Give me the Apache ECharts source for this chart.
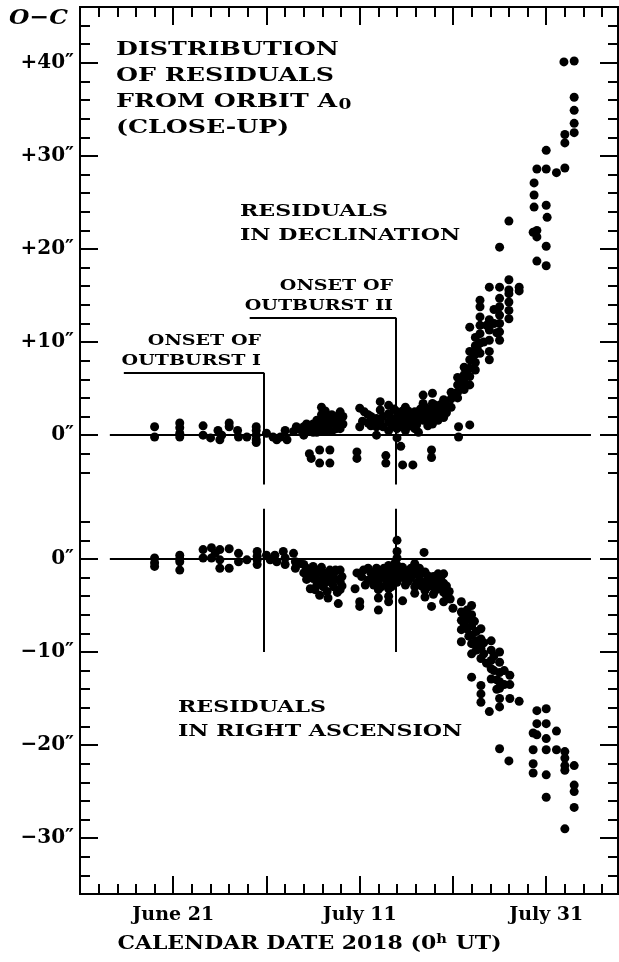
<!DOCTYPE html>
<html style="height: 100%">
<head>
    <meta charset="utf-8">
</head>
<body style="height: 100%; margin: 0; background: #fff">
    <div id="container" style="width: 619px; height: 962px"></div>
    <script type="text/javascript" src="https://cdn.jsdelivr.net/npm/echarts@6/dist/echarts.min.js"></script>
    <script type="text/javascript">
        // x = day counted from June 0, 2018 (June 21 = 21, July 11 = 41, July 31 = 61)
        var decPoints = [
            [19.0,0.9],[19.0,-0.2],
            [21.7,1.3],[21.7,0.8],[21.7,0.2],[21.7,-0.2],
            [24.2,1.0],[24.2,0.0],
            [25.0,-0.3],[25.8,0.5],[26.0,-0.5],[26.2,0.0],
            [27.0,1.3],[27.0,0.9],
            [27.9,0.5],[28.0,-0.2],
            [28.9,-0.2],
            [29.9,0.9],[29.9,0.5],[29.9,0.0],[29.9,-0.5],[29.9,-0.8],
            [31.0,0.2],[31.7,-0.2],[32.1,-0.5],[32.5,-0.2],[33.0,0.5],[33.2,-0.5],[33.9,0.4],[34.2,0.9],[34.6,0.6],
            [35.0,0.9],[35.0,0.3],[35.0,0.0],[35.3,1.2],[35.3,0.5],[35.6,0.5],[35.6,1.0],[36.0,1.2],[36.0,0.3],[36.0,0.7],
            [36.4,0.9],[36.4,0.3],[36.4,1.6],
            [36.9,3.0],[36.9,2.2],[36.9,1.3],[36.9,0.4],[37.3,1.9],[37.3,1.0],[37.3,0.5],[37.3,2.6],[37.6,1.5],[37.6,0.7],
            [38.0,2.2],[38.0,1.3],[38.0,0.4],[38.0,1.8],[38.5,1.4],[38.5,0.7],[38.5,2.0],
            [38.9,2.5],[38.9,1.6],[38.9,0.7],[39.2,1.2],[39.2,2.0],
            [41.0,2.9],[41.0,0.9],[41.3,1.5],[41.5,2.5],
            [41.9,2.2],[41.9,1.3],[42.2,1.0],[42.2,2.0],[42.5,1.4],
            [42.8,1.8],[42.8,0.9],[42.8,0.0],
            [43.2,3.6],[43.2,2.7],[43.2,1.5],[43.5,0.9],[43.5,2.0],
            [44.1,3.2],[44.1,2.3],[44.1,1.4],[44.1,0.5],[44.5,1.8],[44.5,0.9],[44.7,2.8],
            [45.0,2.5],[45.0,1.6],[45.0,0.7],[45.0,1.2],[45.0,-0.3],
            [45.3,1.8],[45.3,1.0],[45.4,-1.2],
            [45.6,1.4],[45.6,2.6],
            [45.9,3.0],[45.9,2.2],[45.9,1.3],[45.9,0.5],
            [46.2,1.5],[46.2,2.6],[46.4,2.0],[46.4,1.0],[46.6,1.2],[46.6,2.0],
            [46.9,2.5],[46.9,1.6],[46.9,0.7],
            [47.1,1.1],[47.1,2.2],[47.3,1.8],[47.3,0.3],[47.5,2.8],
            [47.8,4.3],[47.8,3.4],[47.8,2.5],[47.8,1.6],
            [48.0,2.0],[48.0,3.0],[48.3,2.0],[48.3,1.0],[48.5,2.8],[48.5,1.6],
            [48.8,4.5],[48.8,3.4],[48.8,2.3],[48.8,1.2],
            [49.1,2.0],[49.1,3.2],[49.4,2.7],[49.4,1.6],[49.7,2.2],[49.7,3.3],
            [50.0,3.8],[50.0,2.8],[50.0,1.9],[50.3,3.2],[50.3,2.4],
            [35.6,-2.0],[35.8,-2.5],[36.7,-1.6],[36.7,-3.0],[37.8,-1.6],[37.8,-3.0],
            [40.7,-1.8],[40.7,-2.5],
            [43.8,-2.2],[43.8,-3.0],
            [45.6,-3.2],[46.7,-3.2],
            [48.7,-1.6],[48.7,-2.4],
            [51.6,-0.2],[51.6,0.9],[52.8,1.1],
            [50.8,4.6],[50.8,3.9],[50.8,3.0],[51.2,4.5],
            [51.5,6.2],[51.5,5.4],[51.5,4.6],[51.5,4.0],[51.8,5.8],
            [52.2,7.3],[52.2,6.5],[52.2,5.7],[52.2,4.9],[52.5,6.8],
            [52.8,11.6],[52.8,9.0],[52.8,8.1],[52.8,7.2],[52.8,6.3],[52.8,5.4],[53.1,8.2],
            [53.4,10.5],[53.4,9.6],[53.4,8.7],[53.4,7.8],[53.4,7.0],[53.6,9.3],
            [53.9,14.5],[53.9,13.8],[53.9,12.7],[53.9,11.8],[53.9,10.9],[53.9,9.9],[53.9,8.8],
            [54.3,10.0],[54.6,11.8],
            [54.9,15.9],[54.9,12.4],[54.9,11.3],[54.9,10.2],[54.9,9.0],[54.9,8.1],
            [55.4,12.0],[55.4,13.5],[55.7,11.0],
            [56.0,20.2],[56.0,15.9],[56.0,14.7],[56.0,13.8],[56.0,12.9],[56.0,12.0],[56.0,11.1],[56.0,10.2],
            [57.0,23.0],[57.0,16.7],[57.0,15.6],[57.0,15.2],[57.0,14.3],[57.0,13.4],[57.0,12.5],
            [58.1,15.9],[58.1,15.5],
            [59.6,21.8],[59.7,27.1],[59.7,25.8],[59.7,24.5],
            [60.0,28.6],[60.0,22.0],[60.0,21.3],[60.0,18.7],
            [61.0,30.6],[61.0,28.6],[61.0,24.7],[61.1,23.4],[61.0,20.3],[61.0,18.2],
            [62.1,28.2],
            [63.0,28.7],[63.0,32.3],[63.0,31.4],
            [62.9,40.1],[64.0,40.2],[64.0,36.3],[64.0,34.9],[64.0,33.5],[64.0,32.5]
        ];

        var raPoints = [
            [19.0,0.1],[19.0,-0.8],[19.0,-0.4],
            [21.7,0.4],[21.7,-0.3],[21.7,-1.2],[21.7,0.0],
            [24.2,1.0],[24.2,0.1],
            [25.1,1.2],[25.1,0.1],[26.0,1.0],[26.0,-0.1],[26.0,-1.0],[25.5,0.6],
            [27.0,1.1],[27.0,-1.0],
            [28.0,0.6],[28.0,-0.3],
            [28.9,-0.1],
            [30.0,0.8],[30.0,-0.1],[30.0,-0.6],[30.0,0.3],
            [31.0,0.4],[31.4,-0.1],[31.9,0.4],[32.1,-0.3],[32.8,0.8],[33.0,0.1],[33.0,-0.6],[33.9,0.6],[34.1,-0.3],[34.1,-1.0],[34.6,-0.5],
            [35.0,-0.6],[35.0,-1.5],[35.3,-1.0],[35.3,-2.2],[35.5,-1.8],[35.7,-3.2],[35.8,-1.1],
            [36.0,-0.8],[36.0,-2.1],[36.0,-1.4],[36.2,-1.8],[36.2,-3.3],[36.4,-2.8],[36.6,-1.2],[36.6,-2.4],[36.7,-3.9],
            [36.9,-1.4],[36.9,-0.9],[37.1,-1.8],[37.1,-3.0],[37.3,-2.5],[37.5,-1.5],[37.5,-3.5],[37.6,-4.2],
            [37.8,-2.1],[37.8,-1.2],[38.0,-2.6],[38.2,-1.6],[38.2,-3.0],[38.4,-1.2],[38.4,-2.2],[38.6,-3.6],[38.7,-4.8],
            [38.9,-1.2],[38.9,-2.4],[38.9,-3.3],[39.1,-1.9],[39.1,-2.9],
            [40.7,-1.5],[40.5,-3.2],[41.0,-4.6],[41.0,-5.1],[41.2,-1.9],[41.4,-1.2],[41.6,-2.8],
            [41.9,-1.0],[41.9,-2.3],[42.2,-1.5],[42.2,-2.2],
            [42.5,-1.8],[42.5,-2.8],[42.8,-1.0],[42.8,-2.0],
            [43.0,-1.4],[43.0,-2.4],[43.0,-3.3],[43.0,-4.2],[43.0,-5.5],
            [43.3,-1.7],[43.3,-3.0],[43.6,-1.0],[43.6,-2.0],[43.9,-1.4],[43.9,-2.6],
            [44.1,-0.7],[44.1,-2.2],[44.1,-3.2],[44.1,-4.0],[44.1,-4.6],
            [44.4,-1.9],[44.4,-3.0],[44.6,-1.2],[44.6,-2.6],[44.8,-0.4],
            [45.0,2.0],[45.0,0.8],[45.0,0.1],[45.0,-0.7],[45.0,-1.6],[45.0,-2.5],
            [45.2,-1.2],[45.2,-2.0],
            [45.6,-0.9],[45.6,-2.0],[45.6,-4.5],[45.9,-1.5],[45.9,-2.8],
            [46.2,-1.3],[46.2,-2.4],[46.5,-1.0],[46.5,-2.0],
            [46.9,-0.5],[46.9,-1.6],[46.9,-3.0],[46.9,-3.7],
            [47.1,-1.3],[47.1,-2.6],[47.4,-1.0],[47.4,-2.2],[47.6,-1.6],[47.6,-2.9],
            [47.9,0.7],
            [48.0,-1.4],[48.0,-2.5],[48.0,-3.4],[48.0,-4.1],
            [48.3,-1.8],[48.3,-3.0],[48.6,-2.4],[48.7,-5.1],
            [48.9,-1.9],[48.9,-3.0],[48.9,-3.8],[49.1,-2.3],[49.1,-3.4],
            [49.4,-1.6],[49.4,-2.8],[49.7,-2.0],[49.7,-3.2],
            [50.0,-1.6],[50.0,-2.6],[50.0,-3.6],[50.0,-4.6],
            [50.3,-2.9],[50.3,-3.9],[50.6,-3.5],[50.7,-4.3],[51.0,-5.3],
            [51.9,-4.6],[51.9,-5.7],[51.9,-6.6],[51.9,-7.6],[51.9,-8.9],
            [52.2,-6.0],[52.2,-7.0],
            [52.5,-5.5],[52.5,-6.5],[52.5,-7.5],[52.7,-8.3],
            [53.0,-5.0],[53.0,-6.0],[53.0,-7.2],[53.0,-8.2],[53.0,-9.1],[53.0,-10.2],[53.0,-12.7],
            [53.3,-6.7],[53.5,-7.8],[53.5,-8.8],[53.5,-9.8],[53.7,-9.2],
            [54.0,-7.5],[54.0,-8.6],[54.0,-9.6],[54.0,-10.7],[54.0,-13.6],[54.0,-14.5],[54.0,-15.4],
            [54.3,-9.0],[54.3,-10.2],[54.6,-11.2],
            [54.9,-16.4],
            [55.1,-8.8],[55.1,-9.8],[55.1,-10.9],[55.1,-11.8],[55.1,-12.9],
            [55.4,-10.4],[55.4,-12.0],[55.7,-13.0],[55.7,-14.0],
            [56.0,-10.0],[56.0,-11.1],[56.0,-12.2],[56.0,-13.2],[56.0,-13.9],[56.0,-15.0],[56.0,-15.9],[56.0,-20.4],
            [56.5,-12.0],[56.5,-13.5],
            [57.1,-12.5],[57.1,-13.5],[57.1,-15.0],[57.0,-21.7],
            [58.1,-15.3],
            [60.0,-16.3],[61.0,-16.1],
            [60.0,-17.7],[61.0,-17.7],[62.1,-18.5],
            [59.6,-18.7],[60.0,-18.9],[61.0,-19.3],
            [59.6,-20.5],[61.0,-20.5],[62.1,-20.5],
            [59.6,-22.0],[59.6,-23.0],
            [61.0,-23.2],[61.0,-25.6],
            [63.0,-20.7],[63.0,-21.4],[63.0,-22.2],[63.0,-22.7],
            [64.0,-22.2],[64.0,-24.3],[64.0,-25.0],[64.0,-26.7],
            [63.0,-29.0]
        ];

        var dayMajor = [21, 31, 41, 51, 61];
        var dayMinor = [13, 15, 17, 19, 23, 25, 27, 29, 33, 35, 37, 39, 43, 45, 47, 49, 53, 55, 57, 59, 63, 65, 67];
        var dayLabelValues = [21, 41, 61];
        var dayLabelText = { 21: 'June 21', 41: 'July 11', 61: 'July 31' };
        var decMajor = [0, 10, 20, 30, 40];
        var decMinor = [-4, -2, 2, 4, 6, 8, 12, 14, 16, 18, 22, 24, 26, 28, 32, 34, 36, 38, 42, 44];
        var raMajor = [0, -10, -20, -30];
        var raMinor = [4, 2, -2, -4, -6, -8, -12, -14, -16, -18, -22, -24, -26, -28, -32, -34];

        var outburstDay = [30.73, 44.9];     // onset of outburst I, II
        var leaderStart = [15.7, 29.2];      // left end of the label leader lines
        var leaderLevel = [6.7, 12.6];       // leader height, arcsec in declination
        var zeroSpan = [14.2, 65.8];

        var FONT = '"DejaVu Serif", "Liberation Serif", serif';

        var dom = document.getElementById('container');
        var myChart = echarts.init(dom, null, { renderer: 'canvas' });

        function xAx(pos, ticks, len, labels) {
            return {
                type: 'value', position: pos, min: 11, max: 68.7,
                axisLine: { onZero: false, lineStyle: { color: '#000', width: 2 } },
                axisTick: { inside: true, length: len, customValues: ticks, lineStyle: { color: '#000', width: 2 } },
                axisLabel: labels ? {
                    customValues: dayLabelValues, margin: 12, color: '#000',
                    fontFamily: FONT, fontWeight: 'bold', fontSize: 19,
                    formatter: function (v) { return dayLabelText[v] || ''; }
                } : { show: false },
                splitLine: { show: false }
            };
        }

        function yAx(pos, min, max, ticks, len, labels, fmt) {
            return {
                type: 'value', position: pos, min: min, max: max,
                axisLine: { onZero: false, lineStyle: { color: '#000', width: 2 } },
                axisTick: { inside: true, length: len, customValues: ticks, lineStyle: { color: '#000', width: 2 } },
                axisLabel: labels ? {
                    customValues: labels, margin: 6, color: '#000',
                    fontFamily: FONT, fontWeight: 'bold', fontSize: 20,
                    formatter: fmt
                } : { show: false },
                splitLine: { show: false }
            };
        }

        function decFmt(v) { return v === 0 ? '0\u2033' : '+' + v + '\u2033'; }
        function raFmt(v) { return v === 0 ? '0\u2033' : '\u2212' + Math.abs(v) + '\u2033'; }

        var lineStyle = { color: '#000', width: 2, type: 'solid' };
        function seg(a, b) { return [{ coord: a }, { coord: b }]; }

        var decLines = [seg([zeroSpan[0], 0], [zeroSpan[1], 0])];
        var raLines = [seg([zeroSpan[0], 0], [zeroSpan[1], 0])];
        for (var i = 0; i < outburstDay.length; i++) {
            decLines.push(seg([outburstDay[i], leaderLevel[i]], [outburstDay[i], -5.3]));
            decLines.push(seg([leaderStart[i], leaderLevel[i]], [outburstDay[i], leaderLevel[i]]));
            raLines.push(seg([outburstDay[i], 5.4], [outburstDay[i], -10]));
        }

        function markLine(data) {
            return {
                silent: true, symbol: ['none', 'none'], animation: false,
                label: { show: false }, lineStyle: lineStyle,
                emphasis: { disabled: true }, data: data
            };
        }

        function note(x, y, text, size, align, scale, lh, style) {
            return {
                type: 'text', x: x, y: y, scaleX: scale, silent: true,
                style: {
                    text: text, fill: '#000',
                    font: (style || '') + 'bold ' + size + 'px ' + FONT,
                    align: align, textAlign: align,
                    verticalAlign: 'top', textVerticalAlign: 'top',
                    lineHeight: lh,
                    rich: {
                        sub: { fontFamily: FONT, fontWeight: 'bold', fontSize: 14, fill: '#000', padding: [7, 0, 0, 1], lineHeight: lh }
                    }
                }
            };
        }

        var option = {
            animation: false,
            backgroundColor: '#fff',
            grid: { left: 80, right: 1, top: 7, bottom: 68 },
            xAxis: [
                xAx('bottom', dayMajor, 18, true),
                xAx('bottom', dayMinor, 10, false),
                xAx('top', dayMajor, 18, false),
                xAx('top', dayMinor, 10, false)
            ],
            yAxis: [
                yAx('left', -49.3, 46.0, decMajor, 18, decMajor, decFmt),
                yAx('left', -49.3, 46.0, decMinor, 10, null),
                yAx('left', -36.0, 59.3, raMajor, 18, raMajor, raFmt),
                yAx('left', -36.0, 59.3, raMinor, 10, null),
                yAx('right', -49.3, 46.0, decMajor, 18, null),
                yAx('right', -49.3, 46.0, decMinor, 10, null),
                yAx('right', -36.0, 59.3, raMajor, 18, null),
                yAx('right', -36.0, 59.3, raMinor, 10, null)
            ],
            graphic: [
                note(9, 7, 'O\u2212C', 21, 'left', 1.12, 24, 'italic '),
                note(116, 37, 'DISTRIBUTION\nOF RESIDUALS\nFROM ORBIT A{sub|0}\n(CLOSE-UP)', 19, 'left', 1.33, 26),
                note(240, 200, 'RESIDUALS\nIN DECLINATION', 17, 'left', 1.3, 24),
                note(393, 276, 'ONSET OF\nOUTBURST II', 15, 'right', 1.27, 20),
                note(261, 331, 'ONSET OF\nOUTBURST I', 15, 'right', 1.27, 20),
                note(178, 696, 'RESIDUALS\nIN RIGHT ASCENSION', 17, 'left', 1.3, 23.5),
                {
                    type: 'text', x: 309.5, y: 944, scaleX: 1.22, silent: true,
                    style: {
                        text: 'CALENDAR DATE 2018 (0{sup|h} UT)', fill: '#000',
                        font: 'bold 18px ' + FONT,
                        align: 'center', textAlign: 'center',
                        verticalAlign: 'middle', textVerticalAlign: 'middle',
                        rich: {
                            sup: { fontFamily: FONT, fontWeight: 'bold', fontSize: 12, fill: '#000', padding: [0, 1, 9, 0] }
                        }
                    }
                }
            ],
            series: [
                {
                    name: 'Declination', type: 'scatter', xAxisIndex: 0, yAxisIndex: 0,
                    symbol: 'circle', symbolSize: 9, silent: true,
                    itemStyle: { color: '#000', opacity: 1 },
                    data: decPoints,
                    markLine: markLine(decLines)
                },
                {
                    name: 'Right ascension', type: 'scatter', xAxisIndex: 0, yAxisIndex: 2,
                    symbol: 'circle', symbolSize: 9, silent: true,
                    itemStyle: { color: '#000', opacity: 1 },
                    data: raPoints,
                    markLine: markLine(raLines)
                }
            ]
        };

        myChart.setOption(option, true);
    </script>
</body>
</html>
